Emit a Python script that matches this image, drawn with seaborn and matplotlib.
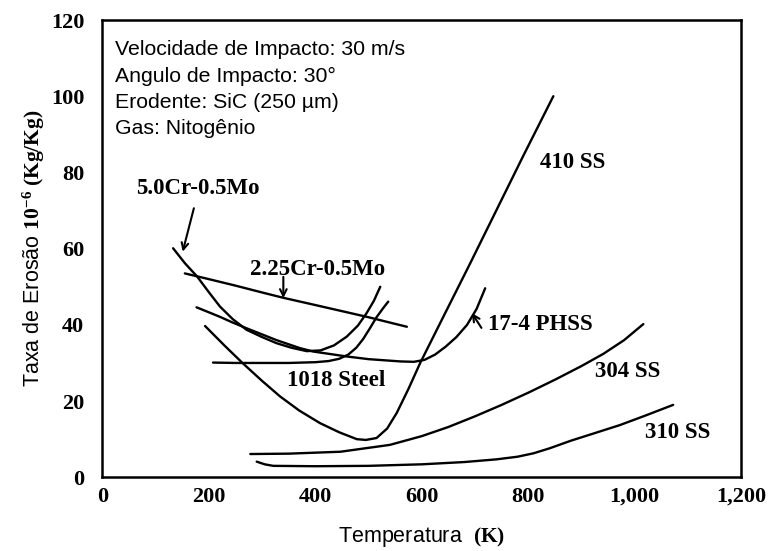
import matplotlib
matplotlib.use("Agg")
import matplotlib.pyplot as plt
import seaborn as sns
import pandas as pd

# ---------------- data ----------------
cr5_T = [133, 155, 178, 200, 221, 245, 271, 300, 327, 355, 384, 410, 435, 459, 480, 496, 510, 522]
cr5_E = [60.1, 56.2, 52.7, 48.6, 44.8, 41.5, 38.7, 36.8, 35.2, 34.0, 33.1, 33.3, 34.6, 36.9, 39.8, 43.0, 46.3, 50.0]

cr225_T = [155, 200, 250, 300, 340, 400, 450, 500, 540, 572]
cr225_E = [53.5, 52.0, 50.3, 48.5, 47.1, 45.2, 43.6, 42.0, 40.6, 39.5]

ph174_T = [177, 200, 221, 245, 271, 300, 327, 350, 371, 396, 430, 459, 500, 530, 560, 585, 605, 625, 645, 665, 685, 703, 719]
ph174_E = [44.6, 43.3, 42.1, 40.6, 39.1, 37.5, 36.0, 34.9, 33.9, 33.0, 32.3, 31.7, 31.0, 30.7, 30.4, 30.3, 30.8, 32.2, 34.3, 36.8, 40.0, 44.2, 49.6]

st1018_T = [208, 250, 300, 350, 400, 425, 445, 462, 477, 490, 503, 515, 527, 537]
st1018_E = [30.1, 30.0, 30.0, 30.0, 30.2, 30.5, 31.1, 32.2, 34.0, 36.3, 39.2, 42.0, 44.3, 46.1]

ss410_T = [193, 230, 264, 300, 334, 370, 409, 445, 478, 495, 515, 535, 553, 575, 597, 640, 690, 737, 790, 847]
ss410_E = [39.7, 34.5, 29.9, 25.3, 21.2, 17.5, 14.2, 11.8, 10.0, 9.8, 10.3, 12.8, 16.9, 23.2, 30.0, 42.0, 55.9, 69.2, 84.2, 100.0]

ss304_T = [278, 350, 447, 540, 600, 650, 700, 750, 800, 850, 900, 941, 980, 1016]
ss304_E = [6.1, 6.2, 6.7, 8.5, 10.8, 13.2, 16.0, 19.0, 22.2, 25.6, 29.2, 32.4, 36.0, 40.2]

ss310_T = [290, 305, 321, 400, 500, 600, 680, 740, 780, 810, 840, 880, 925, 972, 1020, 1072]
ss310_E = [4.1, 3.4, 3.0, 2.9, 3.0, 3.4, 4.0, 4.7, 5.4, 6.3, 7.6, 9.6, 11.6, 13.7, 16.2, 19.0]

x_ticks = [0, 200, 400, 600, 800, 1000, 1200]
x_tick_labels = ["0", "200", "400", "600", "800", "1,000", "1,200"]
y_ticks = [0, 20, 40, 60, 80, 100, 120]

info_lines = ["Velocidade de Impacto: 30 m/s",
              "Angulo de Impacto: 30°",
              "Erodente: SiC (250 µm)",
              "Gas: Nitogênio"]

curves = {
    "5.0Cr-0.5Mo": (cr5_T, cr5_E),
    "2.25Cr-0.5Mo": (cr225_T, cr225_E),
    "17-4 PHSS": (ph174_T, ph174_E),
    "1018 Steel": (st1018_T, st1018_E),
    "410 SS": (ss410_T, ss410_E),
    "304 SS": (ss304_T, ss304_E),
    "310 SS": (ss310_T, ss310_E),
}

# ---------------- style ----------------
sns.set_theme(style="white")
plt.rcParams["font.family"] = ["Liberation Sans", "DejaVu Sans"]
plt.rcParams["mathtext.fontset"] = "custom"
plt.rcParams["mathtext.rm"] = "Liberation Serif"
plt.rcParams["mathtext.bf"] = "Liberation Serif:bold"
plt.rcParams["mathtext.it"] = "Liberation Serif:italic"

fig = plt.figure(figsize=(7.69, 5.51), dpi=100)
ax = fig.add_axes([0.1330, 0.1338, 0.8310, 0.8299])

for name, (T, E) in curves.items():
    df = pd.DataFrame({"T": T, "E": E})
    sns.lineplot(data=df, x="T", y="E", sort=False, estimator=None,
                 color="black", lw=1.7, ax=ax)

ax.set_xlim(0, 1200)
ax.set_ylim(0, 120)
ax.set_xticks(x_ticks)
ax.set_xticklabels(x_tick_labels)
ax.set_yticks(y_ticks)
for lab in ax.get_xticklabels() + ax.get_yticklabels():
    lab.set_fontfamily("Liberation Serif")
    lab.set_fontweight("bold")
    lab.set_fontsize(16)
    lab.set_color("black")
ax.tick_params(axis="both", direction="out", length=6, width=1.5, color="black")
ax.tick_params(axis="x", pad=1)
ax.tick_params(axis="y", pad=7)
for s in ax.spines.values():
    s.set_linewidth(1.8)
    s.set_color("black")

ax.set_xlabel("Temperatura  $\\mathbf{(K)}$", fontsize=15.5, color="black", labelpad=13)
ax.set_ylabel("Taxa de Erosão $\\mathbf{10^{-6}\\ (Kg/Kg)}$", fontsize=15.5, color="black", labelpad=3)

# info box
info_y = [112.3, 105.3, 98.3, 91.6]
for txt, yy in zip(info_lines, info_y):
    ax.text(24, yy, txt, fontsize=15.3, va="center", ha="left", color="black")

lab_kw = dict(fontfamily="Liberation Serif", fontweight="bold", fontsize=16.5, color="black")
ax.text(180, 75.8, "5.0Cr-0.5Mo", ha="center", va="center", **lab_kw)
ax.text(405, 54.6, "2.25Cr-0.5Mo", ha="center", va="center", **lab_kw)
ax.text(440, 25.5, "1018 Steel", ha="center", va="center", **lab_kw)
ax.text(725, 40.0, "17-4 PHSS", ha="left", va="center", **lab_kw)
ax.text(884, 82.6, "410 SS", ha="center", va="center", **lab_kw)
ax.text(986, 27.7, "304 SS", ha="center", va="center", **lab_kw)
ax.text(1081, 11.7, "310 SS", ha="center", va="center", **lab_kw)

arrow_kw = dict(arrowstyle="->", color="black", lw=1.5, shrinkA=0, shrinkB=0, mutation_scale=12)
ax.annotate("", xy=(151, 59.2), xytext=(172, 70.6), arrowprops=arrow_kw)
ax.annotate("", xy=(340, 47.0), xytext=(340, 52.6), arrowprops=arrow_kw)
ax.annotate("", xy=(694, 43.1), xytext=(712, 39.2), arrowprops=arrow_kw)

fig.savefig("out.png", dpi=100)
